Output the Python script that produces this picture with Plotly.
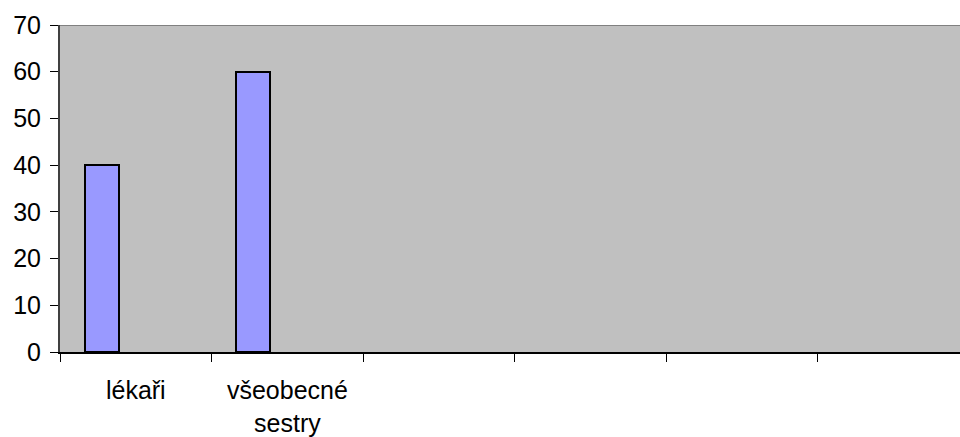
import plotly.graph_objects as go

# Category slots along the x axis (six slots, only two are labelled/filled)
categories = ["lékaři", "všeobecné<br>sestry", "", "", "", ""]
values = [40, 60, None, None, None, None]
y_ticks = [0, 10, 20, 30, 40, 50, 60, 70]

positions = list(range(len(categories)))

fig = go.Figure()
fig.add_trace(go.Bar(
    x=positions,
    y=values,
    width=0.224,
    offset=-0.336,
    marker=dict(color="#9999FF", line=dict(color="#000000", width=2)),
    showlegend=False,
    hoverinfo="skip",
))

# grey border along the top of the plot area
fig.add_shape(type="line", xref="paper", yref="y", x0=0, x1=1, y0=70, y1=70,
              line=dict(color="#808080", width=2))

x_font = dict(family="Liberation Sans, Arial, sans-serif", size=25, color="#000000")
y_font = dict(family="Liberation Sans, Arial, sans-serif", size=25, color="#000000")

fig.update_layout(
    width=960, height=437,
    margin=dict(l=60, r=0, t=25, b=85),
    paper_bgcolor="#FFFFFF",
    plot_bgcolor="#C0C0C0",
    font=x_font,
    bargap=0,
    xaxis=dict(
        range=[-0.5, 5.437],
        tickmode="array",
        tickvals=positions,
        ticktext=categories,
        tickfont=x_font,
        ticks="",
        ticklen=0,
        ticklabelstandoff=15,
        showgrid=False,
        zeroline=False,
        showline=True,
        linecolor="#000000",
        linewidth=2,
        minor=dict(tick0=0.5, dtick=1, ticks="outside", ticklen=8,
                   tickcolor="#000000", tickwidth=1, showgrid=False),
        fixedrange=True,
    ),
    yaxis=dict(
        range=[0, 70],
        tickmode="array",
        tickvals=y_ticks,
        tickfont=y_font,
        ticks="outside",
        ticklen=8,
        tickcolor="#000000",
        tickwidth=1,
        ticklabelstandoff=4,
        showgrid=False,
        zeroline=False,
        showline=True,
        linecolor="#404040",
        linewidth=2,
        fixedrange=True,
    ),
)

fig.write_html("out.html", config={"displayModeBar": False})
